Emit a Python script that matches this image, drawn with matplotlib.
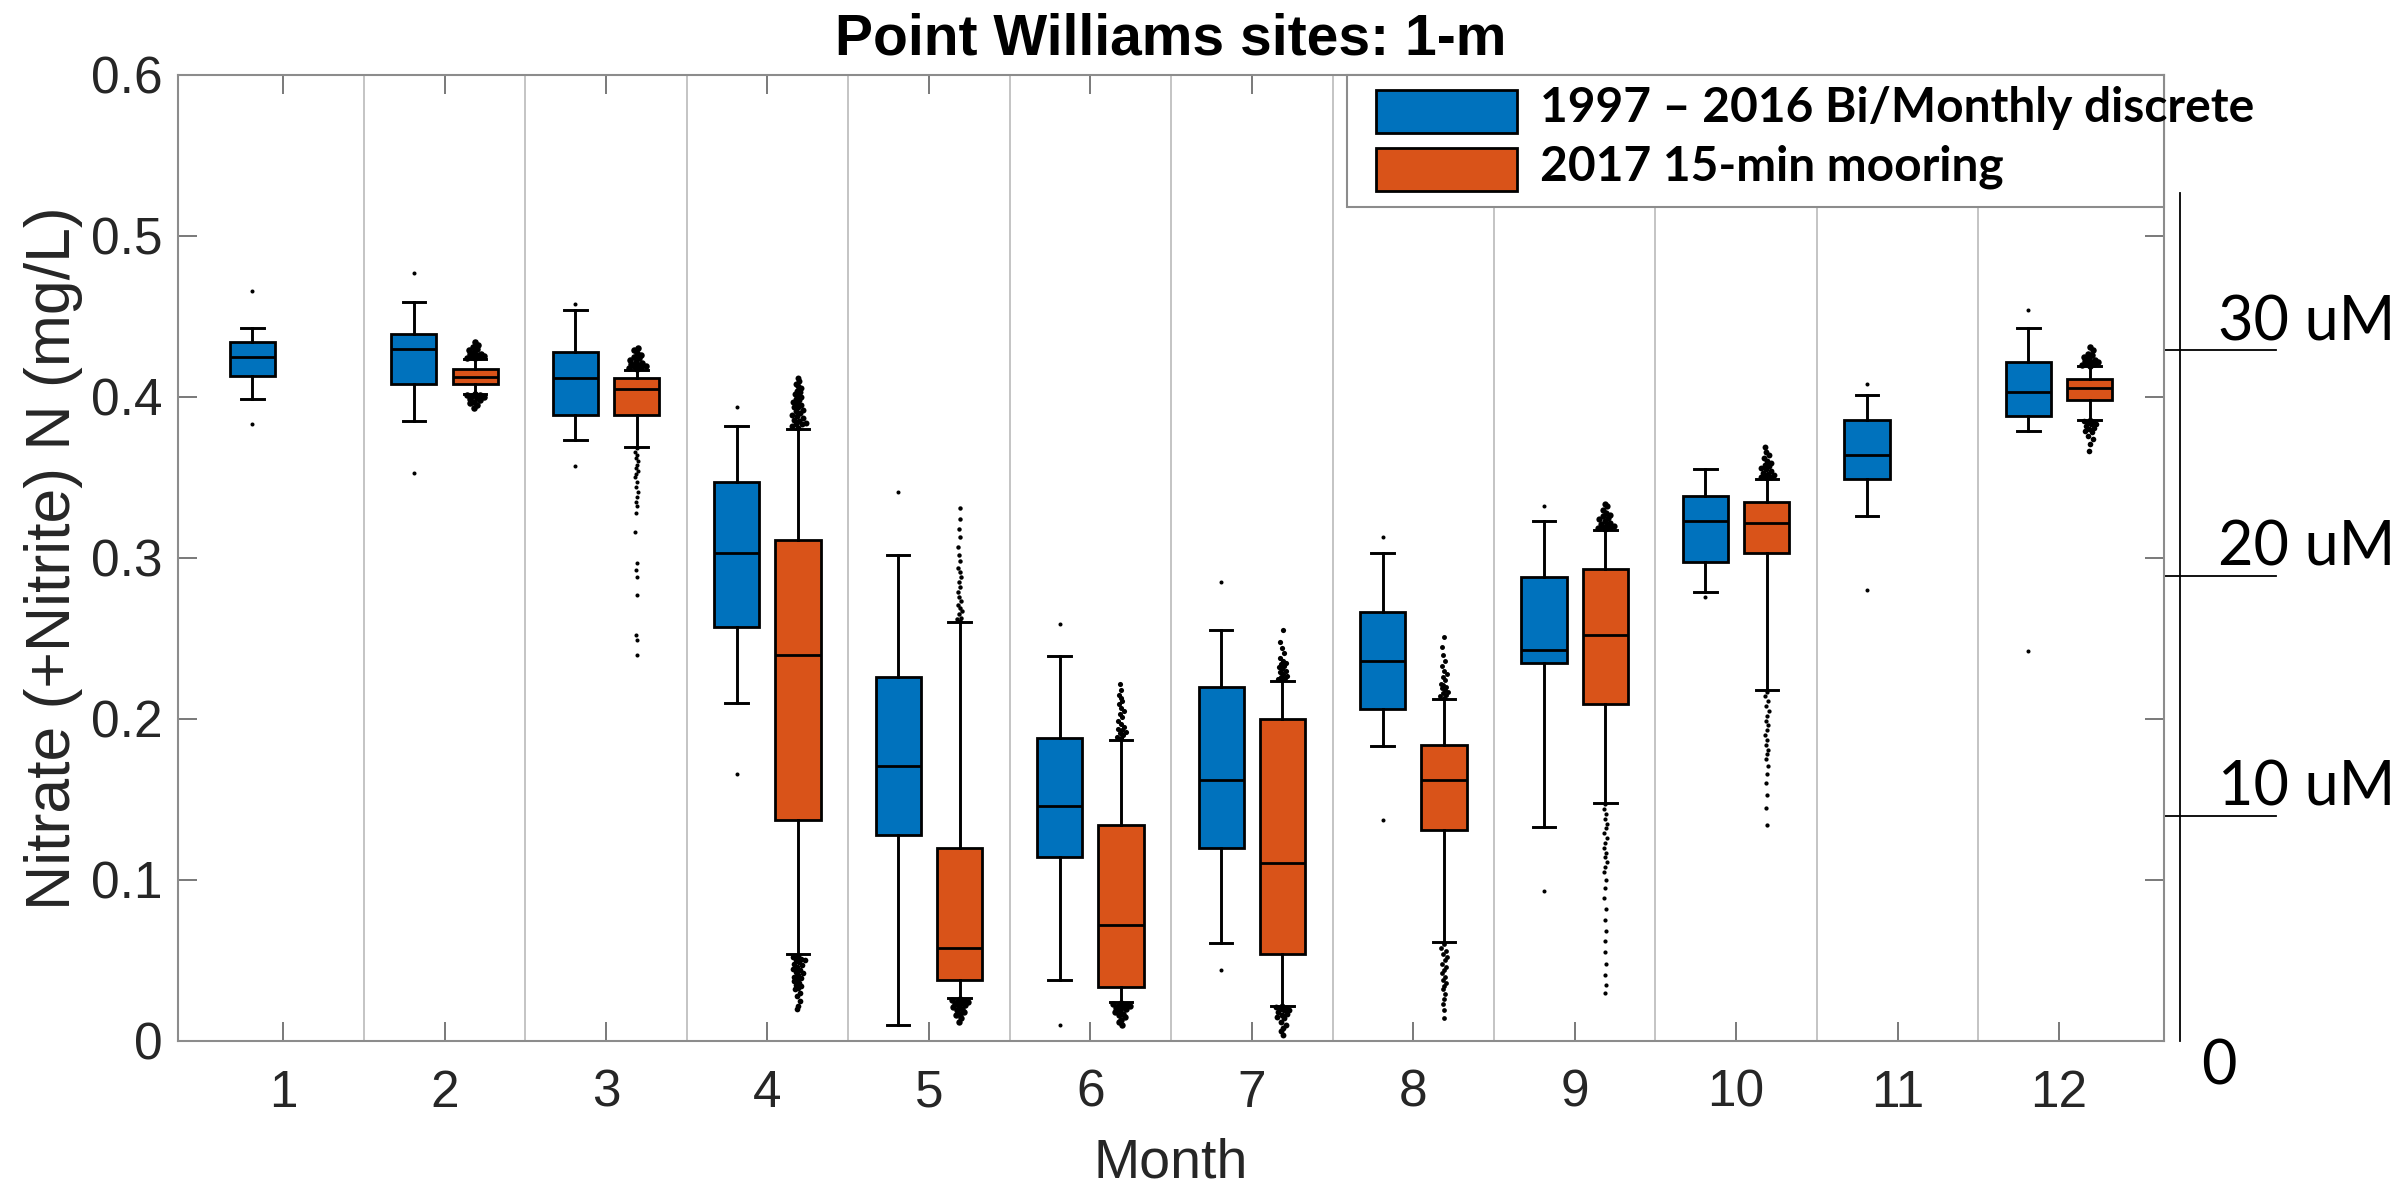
import matplotlib.pyplot as plt
from matplotlib.patches import Rectangle
from matplotlib.transforms import offset_copy
import numpy as np

months = list(range(1, 13))
month_labels = [str(m) for m in months]

# 1997-2016 bi/monthly discrete samples (mg/L)
disc_months = months
disc_whislo = [0.399, 0.385, 0.373, 0.210, 0.010, 0.038, 0.061, 0.183, 0.133, 0.279, 0.326, 0.379]
disc_q1 = [0.413, 0.408, 0.389, 0.257, 0.128, 0.114, 0.120, 0.206, 0.235, 0.2975, 0.349, 0.388]
disc_med = [0.425, 0.430, 0.4115, 0.303, 0.171, 0.146, 0.162, 0.236, 0.243, 0.323, 0.364, 0.403]
disc_q3 = [0.434, 0.439, 0.428, 0.347, 0.226, 0.188, 0.220, 0.2665, 0.288, 0.3386, 0.386, 0.4215]
disc_whishi = [0.443, 0.459, 0.454, 0.382, 0.302, 0.239, 0.255, 0.303, 0.323, 0.355, 0.401, 0.443]
disc_fliers = [
    [0.466, 0.383], [0.477, 0.353], [0.458, 0.357], [0.394, 0.166],
    [0.341], [0.259, 0.010], [0.285, 0.044], [0.313, 0.137],
    [0.332, 0.093], [0.276], [0.408, 0.280], [0.454, 0.242],
]

# 2017 15-min mooring (mg/L)
moor_months = [2, 3, 4, 5, 6, 7, 8, 9, 10, 12]
moor_whislo = [0.402, 0.369, 0.054, 0.027, 0.024, 0.022, 0.0612, 0.148, 0.218, 0.386]
moor_q1 = [0.408, 0.389, 0.137, 0.0379, 0.0335, 0.0541, 0.1311, 0.209, 0.303, 0.398]
moor_med = [0.4126, 0.405, 0.240, 0.0578, 0.0723, 0.1108, 0.1624, 0.2524, 0.322, 0.4058]
moor_q3 = [0.4174, 0.4115, 0.311, 0.120, 0.1344, 0.200, 0.184, 0.2929, 0.335, 0.4114]
moor_whishi = [0.4234, 0.417, 0.380, 0.2604, 0.1872, 0.2237, 0.2124, 0.3175, 0.349, 0.419]
moor_fliers = [
    # 2
    [0.424, 0.4243, 0.4247, 0.425, 0.4255, 0.426, 0.4265, 0.427, 0.428, 0.429, 0.430, 0.431, 0.432, 0.434,
     0.4018, 0.4015, 0.401, 0.4005, 0.400, 0.3995, 0.399, 0.398, 0.397, 0.396, 0.395, 0.393],
    # 3
    [0.4175, 0.418, 0.4185, 0.419, 0.4195, 0.420, 0.4205, 0.421, 0.422, 0.423, 0.424, 0.425, 0.426, 0.4275,
     0.429, 0.4305,
     0.368, 0.366, 0.364, 0.362, 0.360, 0.358, 0.356, 0.354, 0.352, 0.350, 0.347, 0.344, 0.341, 0.338,
     0.335, 0.332, 0.328, 0.316, 0.297, 0.2926, 0.288, 0.277, 0.2523, 0.249, 0.240],
    # 4
    [0.381, 0.382, 0.383, 0.3835, 0.384, 0.385, 0.386, 0.387, 0.388, 0.389, 0.390, 0.391, 0.392, 0.3935,
     0.394, 0.395, 0.396, 0.397, 0.398, 0.399, 0.400, 0.4015, 0.402, 0.403, 0.404, 0.4055, 0.407, 0.408,
     0.410, 0.412,
     0.053, 0.052, 0.051, 0.0505, 0.050, 0.049, 0.048, 0.047, 0.046, 0.045, 0.044, 0.043, 0.042, 0.041,
     0.040, 0.039, 0.038, 0.037, 0.036, 0.035, 0.034, 0.033, 0.032, 0.030, 0.028, 0.025, 0.022, 0.0196],
    # 5
    [0.261, 0.262, 0.263, 0.265, 0.267, 0.269, 0.271, 0.273, 0.276, 0.279, 0.282, 0.285, 0.288, 0.291,
     0.294, 0.298, 0.302, 0.307, 0.313, 0.318, 0.324, 0.331,
     0.026, 0.0255, 0.025, 0.0245, 0.024, 0.0235, 0.023, 0.0225, 0.022, 0.021, 0.020, 0.019, 0.018,
     0.017, 0.016, 0.014, 0.012],
    # 6
    [0.188, 0.189, 0.190, 0.191, 0.192, 0.193, 0.194, 0.195, 0.197, 0.199, 0.201, 0.203, 0.205, 0.207,
     0.209, 0.211, 0.213, 0.215, 0.218, 0.222,
     0.0235, 0.023, 0.0225, 0.022, 0.0215, 0.021, 0.0205, 0.020, 0.019, 0.018, 0.017, 0.016, 0.015,
     0.013, 0.0115, 0.010],
    # 7
    [0.2245, 0.225, 0.2255, 0.226, 0.227, 0.228, 0.229, 0.230, 0.231, 0.232, 0.233, 0.234, 0.235, 0.236,
     0.238, 0.241, 0.244, 0.248, 0.2553,
     0.0215, 0.021, 0.0205, 0.020, 0.0195, 0.019, 0.018, 0.017, 0.016, 0.015, 0.014, 0.012, 0.010,
     0.008, 0.006, 0.004],
    # 8
    [0.213, 0.214, 0.215, 0.216, 0.217, 0.218, 0.219, 0.220, 0.221, 0.222, 0.224, 0.226, 0.228, 0.230,
     0.233, 0.236, 0.240, 0.245, 0.251,
     0.060, 0.058, 0.056, 0.054, 0.052, 0.050, 0.048, 0.046, 0.044, 0.042, 0.040, 0.038, 0.036, 0.034,
     0.032, 0.029, 0.026, 0.023, 0.019, 0.0143],
    # 9
    [0.318, 0.3185, 0.319, 0.3195, 0.320, 0.3205, 0.321, 0.322, 0.323, 0.324, 0.325, 0.326, 0.327, 0.328,
     0.330, 0.332, 0.3335,
     0.147, 0.144, 0.141, 0.138, 0.135, 0.132, 0.129, 0.126, 0.123, 0.120, 0.117, 0.114, 0.111, 0.108,
     0.105, 0.100, 0.095, 0.089, 0.082, 0.075, 0.068, 0.062, 0.055, 0.048, 0.041, 0.035, 0.030],
    # 10
    [0.3495, 0.350, 0.3505, 0.351, 0.3515, 0.352, 0.353, 0.354, 0.355, 0.356, 0.357, 0.358, 0.359, 0.360,
     0.362, 0.364, 0.366, 0.369,
     0.217, 0.214, 0.211, 0.208, 0.205, 0.202, 0.199, 0.196, 0.193, 0.190, 0.187, 0.184, 0.181, 0.178,
     0.175, 0.171, 0.166, 0.160, 0.153, 0.145, 0.134],
    # 12
    [0.4195, 0.420, 0.4205, 0.421, 0.4215, 0.422, 0.4225, 0.423, 0.424, 0.425, 0.426, 0.427, 0.429, 0.431,
     0.3855, 0.385, 0.3845, 0.384, 0.3835, 0.383, 0.382, 0.381, 0.380, 0.379, 0.378, 0.376, 0.374,
     0.371, 0.3666],
]

# hand-drawn micromolar scale on the right (levels and where the marks sit, mg/L)
uM_levels = [30, 20, 10]
uM_y = [0.429, 0.289, 0.140]

legend_labels = ['1997 \u2013 2016 Bi/Monthly discrete', '2017 15-min mooring']

BLUE = '#0072BD'
ORANGE = '#D95319'
SHIFT = 0.19
WIDTH = 0.28

plt.rcParams['font.family'] = ['Liberation Sans', 'DejaVu Sans']
CAL = ['Lato', 'DejaVu Sans']


def draw_group(ax, pos, lo, q1, med, q3, hi, fliers, color):
    stats = [dict(whislo=a, q1=b, med=c, q3=d, whishi=e, fliers=[])
             for a, b, c, d, e in zip(lo, q1, med, q3, hi)]
    ax.bxp(stats, positions=pos, widths=WIDTH, patch_artist=True, showfliers=False,
           manage_ticks=False,
           boxprops=dict(facecolor=color, edgecolor='black', linewidth=2.0),
           medianprops=dict(color='black', linewidth=2.0),
           whiskerprops=dict(color='black', linewidth=2.1),
           capprops=dict(color='black', linewidth=2.1))
    # outliers, spread sideways a bit where they pile up
    for p, l, h, fl in zip(pos, lo, hi, fliers):
        fl = np.asarray(fl)
        for part, ref in ((fl[fl > h], h), (fl[fl < l], l)):
            if len(part) == 0:
                continue
            d = np.abs(part - ref)
            D = max(d.max(), 0.01)
            f = np.clip(len(part) / D / 1200, 0.15, 1.0)
            half = 0.07 * f * (1 - 0.8 * d / D)
            k = np.arange(len(part))
            off = half * (2 * ((k * 0.618034 + 0.5) % 1) - 1)
            ax.scatter(p + off, part, s=6 + 16 * f, color='black', linewidths=0, zorder=3)


fig = plt.figure(figsize=(23.97, 11.92), dpi=100)
ax = fig.add_axes([0.0743, 0.1267, 0.8285, 0.8104])

for b in months[:-1]:
    ax.axvline(b + 0.5, color='#b4b4b4', lw=1.1, zorder=0)

draw_group(ax, [m - SHIFT for m in disc_months], disc_whislo, disc_q1, disc_med,
           disc_q3, disc_whishi, disc_fliers, BLUE)
draw_group(ax, [m + SHIFT for m in moor_months], moor_whislo, moor_q1, moor_med,
           moor_q3, moor_whishi, moor_fliers, ORANGE)

ax.set_xlim(0.35, 12.65)
ax.set_ylim(0, 0.6)
ax.set_xticks(months)
ax.set_xticklabels(month_labels)
ax.set_yticks([0, 0.1, 0.2, 0.3, 0.4, 0.5, 0.6])
ax.set_yticklabels(['0', '0.1', '0.2', '0.3', '0.4', '0.5', '0.6'])
ax.tick_params(direction='in', length=13.7, width=1.1, top=True, right=True,
               labelsize=37, color='#555555', labelcolor='#262626')
ax.tick_params(axis='x', pad=20)
ax.tick_params(axis='y', pad=11)
for s in ax.spines.values():
    s.set_color('#8c8c8c')
    s.set_linewidth(1.5)

ax.set_title('Point Williams sites: 1-m', fontsize=41, fontweight='bold', pad=15, color='black')
ax.set_xlabel('Month', fontsize=40, color='#262626', labelpad=14)
ax.set_ylabel('Nitrate (+Nitrite) N (mg/L)', fontsize=45, color='#262626', labelpad=6)

# legend box (the first label runs past the right edge of the frame)
ax.add_patch(Rectangle((0.5886, 0.8634), 0.4114, 0.1366, transform=ax.transAxes,
                       facecolor='white', edgecolor='#8c8c8c', lw=1.5, clip_on=False, zorder=5))
for i, (lab, col) in enumerate(zip(legend_labels, [BLUE, ORANGE])):
    y0 = 0.9400 - i * 0.0601
    ax.add_patch(Rectangle((0.6032, y0), 0.0710, 0.0445, transform=ax.transAxes,
                           facecolor=col, edgecolor='black', lw=2, clip_on=False, zorder=6))
    ax.text(0.6858, y0 + 0.0113, lab, transform=ax.transAxes, ha='left', va='baseline',
            fontsize=34.5, fontweight='bold', family=CAL, color='black', zorder=7,
            clip_on=False)

# right-hand uM scale drawn outside the axes
trans = ax.get_yaxis_transform()
ax.plot([1.008, 1.008], [0, 0.527], transform=trans, clip_on=False, color='black', lw=1.3)
lab_trans = offset_copy(trans, fig=fig, y=10, units='dots')
for lev, y in zip(uM_levels, uM_y):
    ax.plot([1.0, 1.0564], [y, y], transform=trans, clip_on=False, color='black', lw=1.3)
    ax.text(1.027, y, f'{lev} uM', transform=lab_trans, ha='left', va='baseline',
            fontsize=44, family=CAL, color='black')
ax.text(1.0277, -0.016, '0', transform=trans, ha='center', va='center',
        fontsize=44, family=CAL, color='black')

fig.savefig('out.png', dpi=100)
